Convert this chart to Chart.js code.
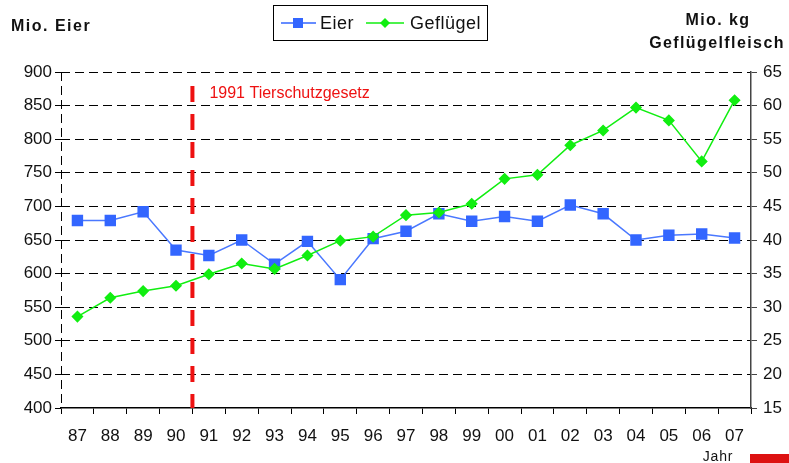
<!DOCTYPE html>
<html>
<head>
<meta charset="utf-8">
<script src="https://cdn.jsdelivr.net/npm/chart.js@4"></script>
<style>
  body { margin: 0; background: #fff; }
  #wrap { width: 789px; height: 463px; position: relative; }
</style>
</head>
<body>
<div id="wrap"><canvas id="chart" width="789" height="463"></canvas></div>
<script>
// Eier / Geflügel 1987-2007
var years = ['87', '88', '89', '90', '91', '92', '93', '94', '95', '96', '97',
             '98', '99', '00', '01', '02', '03', '04', '05', '06', '07'];
var eier = [679, 679, 692, 635, 627, 650, 614, 648, 591, 652, 663,
            689, 678, 685, 678, 702, 689, 650, 657, 659, 653];
var gefluegel = [28.6, 31.4, 32.4, 33.2, 34.9, 36.5, 35.7, 37.7, 39.9, 40.5, 43.7,
                 44.1, 45.4, 49.1, 49.7, 54.1, 56.3, 59.7, 57.8, 51.7, 60.8];
var eierRange = [400, 900, 50];
var gefluegelRange = [15, 65, 5];

var FONT = '"Liberation Sans", Arial, sans-serif';
var BLUE = '#3366ff';
var GREEN = '#11ee11';
var RED = '#ee1111';

// titles, legend box, 1991 marker
var extras = {
    id: 'extras',
    afterDatasetsDraw: function(chart) {
        var ctx = chart.ctx;
        var x = chart.scales.x;
        var y = chart.scales.y;
        var lx = x.getPixelForValue(3.5);
        ctx.save();
        ctx.strokeStyle = RED;
        ctx.lineWidth = 4;
        ctx.setLineDash([16, 12]);
        ctx.beginPath();
        ctx.moveTo(lx, y.getPixelForValue(879));
        ctx.lineTo(lx, chart.chartArea.bottom);
        ctx.stroke();
        ctx.setLineDash([]);
        ctx.fillStyle = RED;
        ctx.font = '16px ' + FONT;
        ctx.textBaseline = 'alphabetic';
        ctx.fillText('1991 Tierschutzgesetz', lx + 17, 98);
        ctx.restore();
    },
    afterDraw: function(chart) {
        var ctx = chart.ctx;
        ctx.save();
        ctx.fillStyle = '#111';
        ctx.textBaseline = 'alphabetic';
        ctx.font = 'bold 16px ' + FONT;
        ctx.letterSpacing = '1.5px';
        ctx.textAlign = 'left';
        ctx.fillText('Mio. Eier', 11, 31);
        ctx.letterSpacing = '1.4px';
        ctx.textAlign = 'center';
        ctx.fillText('Mio. kg', 718, 25);
        ctx.fillText('Geflügelfleisch', 717, 48);
        ctx.font = '14px ' + FONT;
        ctx.letterSpacing = '0.8px';
        ctx.fillText('Jahr', 718, 461);
        ctx.letterSpacing = '0px';

        ctx.fillStyle = '#dd1111';
        ctx.fillRect(750, 454, 39, 9);

        // legend
        ctx.strokeStyle = '#000';
        ctx.lineWidth = 1;
        ctx.strokeRect(273.5, 5.5, 214, 35);
        ctx.lineWidth = 1.5;
        ctx.strokeStyle = BLUE;
        ctx.beginPath(); ctx.moveTo(281, 23); ctx.lineTo(316, 23); ctx.stroke();
        ctx.fillStyle = BLUE;
        ctx.fillRect(293, 18, 10, 10);
        ctx.strokeStyle = GREEN;
        ctx.beginPath(); ctx.moveTo(366, 23); ctx.lineTo(404, 23); ctx.stroke();
        ctx.fillStyle = GREEN;
        ctx.beginPath();
        ctx.moveTo(380, 23); ctx.lineTo(385, 18); ctx.lineTo(390, 23); ctx.lineTo(385, 28);
        ctx.closePath(); ctx.fill();
        ctx.fillStyle = '#111';
        ctx.font = '18px ' + FONT;
        ctx.textAlign = 'left';
        ctx.textBaseline = 'middle';
        ctx.letterSpacing = '0.5px';
        ctx.fillText('Eier', 320, 24);
        ctx.fillText('Geflügel', 410, 24);
        ctx.restore();
    }
};

new Chart(document.getElementById('chart'), {
    type: 'line',
    data: {
        labels: years,
        datasets: [{
            label: 'Eier',
            data: eier,
            yAxisID: 'y',
            borderColor: '#4a78ff',
            backgroundColor: BLUE,
            pointBackgroundColor: BLUE,
            pointBorderColor: BLUE,
            pointStyle: 'rect',
            pointRadius: 7,
            borderWidth: 1.5,
            order: 2
        }, {
            label: 'Geflügel',
            data: gefluegel,
            yAxisID: 'y2',
            borderColor: GREEN,
            backgroundColor: GREEN,
            pointBackgroundColor: GREEN,
            pointBorderColor: GREEN,
            pointStyle: 'rectRot',
            pointRadius: 5,
            borderWidth: 1.5,
            order: 1
        }]
    },
    options: {
        responsive: false,
        animation: false,
        layout: { padding: { top: 72, left: 0, right: 0, bottom: 0 } },
        plugins: {
            legend: { display: false },
            tooltip: { enabled: false }
        },
        scales: {
            x: {
                type: 'category',
                offset: true,
                grid: {
                    offset: true,
                    drawOnChartArea: true,
                    color: function(c) { return c.index === 0 ? '#000' : 'rgba(0,0,0,0)'; },
                    tickColor: '#000',
                    tickLength: 6,
                    tickBorderDash: []
                },
                border: { display: true, color: '#000', width: 1.5, dash: [9, 5] },
                ticks: {
                    color: '#111',
                    font: { family: FONT, size: 17 },
                    padding: 12,
                    maxRotation: 0,
                    autoSkip: false
                },
                afterFit: function(s) { s.height = 55; }
            },
            y: {
                position: 'left',
                min: eierRange[0],
                max: eierRange[1],
                ticks: {
                    stepSize: eierRange[2],
                    color: '#111',
                    font: { family: FONT, size: 17 },
                    padding: 3
                },
                grid: {
                    color: function(c) { return c.index === 0 ? 'rgba(0,0,0,0)' : '#000'; },
                    lineWidth: 1,
                    tickLength: 6,
                    tickColor: '#000',
                    tickBorderDash: []
                },
                border: { display: false, dash: [9, 5] },
                afterFit: function(s) { s.width = 61; }
            },
            y2: {
                position: 'right',
                min: gefluegelRange[0],
                max: gefluegelRange[1],
                ticks: {
                    stepSize: gefluegelRange[2],
                    color: '#111',
                    font: { family: FONT, size: 17 },
                    padding: 6
                },
                grid: {
                    drawOnChartArea: false,
                    tickLength: 6,
                    tickColor: '#444'
                },
                border: { display: true, color: '#444', width: 1.5 },
                afterFit: function(s) { s.width = 38; }
            }
        }
    },
    plugins: [extras]
});
</script>
</body>
</html>
